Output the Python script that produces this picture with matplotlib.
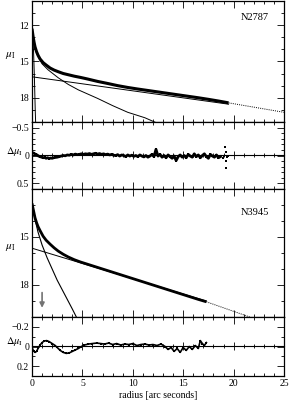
import matplotlib
matplotlib.use("Agg")
import matplotlib.pyplot as plt
from matplotlib.ticker import MultipleLocator, NullFormatter

plt.rcParams['font.family'] = ['Liberation Serif', 'DejaVu Serif']
plt.rcParams['mathtext.fontset'] = 'stix'
plt.rcParams['font.size'] = 7

# ---- N2787 profile (radius in arcsec, mu_I in mag/arcsec^2) ----
r1 = [0, 0.1, 0.2, 0.3, 0.45, 0.6, 0.8, 1.1, 1.4, 1.8, 2.2, 2.6, 3.1, 3.6, 4.2, 4.8,
      5.5, 6.5, 7.5, 8.5, 9.5, 10.5, 11.5, 12.5, 13.5, 14.5, 15.5, 16.5, 17.5, 18.5, 19.5]
mu1 = [12.3, 12.9, 13.4, 13.8, 14.2, 14.5, 14.8, 15.1, 15.3, 15.55, 15.72, 15.85, 16.0, 16.1,
       16.22, 16.32, 16.45, 16.65, 16.82, 17.0, 17.15, 17.28, 17.4, 17.52, 17.64, 17.76,
       17.88, 18.0, 18.13, 18.27, 18.42]
r1_ext = [19.5, 25]
mu1_ext = [18.42, 19.2]
r1_disk = [0, 19.5]
mu1_disk = [16.27, 18.53]
r1_bulge = [0, 0.15, 0.3, 0.6, 1.0, 1.6, 2.6, 3.6, 4.6, 6.5, 8.0, 9.5, 11.2, 12.3]
mu1_bulge = [12.4, 13.2, 13.8, 14.6, 15.2, 15.7, 16.35, 16.9, 17.35, 18.05, 18.65, 19.2, 19.65, 20.05]
r1_nuc = [0, 0.08, 0.16, 0.24, 0.32, 0.38]
mu1_nuc = [12.4, 12.9, 14.3, 16.4, 19.0, 20.5]

# N2787 residuals
r1_res = [0.05, 0.2, 0.35, 0.5, 0.65, 0.8, 0.95, 1.1, 1.25, 1.4, 1.55, 1.7, 1.85, 2.0, 2.15,
          2.3, 2.5, 2.7, 2.9, 3.1, 3.3, 3.5, 3.7, 3.9, 4.1, 4.3, 4.5, 4.7, 4.9, 5.1, 5.3,
          5.5, 5.7, 5.9, 6.1, 6.3, 6.5, 6.7, 6.9, 7.1, 7.3, 7.5, 7.7, 7.9, 8.1, 8.3, 8.5,
          8.7, 8.9, 9.1, 9.3, 9.5, 9.7, 9.9, 10.1, 10.3, 10.5, 10.7, 10.9, 11.1, 11.3, 11.5,
          11.7, 11.9, 12.1, 12.3, 12.5, 12.7, 12.9, 13.1, 13.3, 13.5, 13.7, 13.9, 14.1, 14.3,
          14.5, 14.7, 14.9, 15.1, 15.3, 15.5, 15.7, 15.9, 16.1, 16.3, 16.5, 16.7, 16.9, 17.1,
          17.3, 17.5, 17.7, 17.9, 18.1, 18.3, 18.5, 18.7, 18.9, 19.0, 19.1, 19.2, 19.2, 19.2,
          19.3, 19.4]
d1_res = [-0.05, -0.04, -0.02, -0.01, 0.01, 0.02, 0.03, 0.04, 0.035, 0.05, 0.04, 0.055, 0.045,
          0.05, 0.04, 0.035, 0.03, 0.02, 0.01, 0.0, 0.005, -0.01, -0.005, -0.02, -0.01,
          -0.025, -0.015, -0.02, -0.03, -0.02, -0.03, -0.025, -0.035, -0.02, -0.03, -0.04,
          -0.025, -0.035, -0.02, -0.03, -0.015, -0.025, -0.01, -0.02, -0.005, 0.0, -0.015,
          0.01, -0.01, 0.0, 0.02, -0.01, 0.01, -0.005, 0.015, 0.0, 0.02, -0.01, 0.01, 0.025,
          0.0, 0.03, 0.01, -0.02, 0.02, -0.11, 0.01, -0.02, 0.03, 0.0, 0.04, -0.01, 0.02,
          0.05, 0.01, 0.09, 0.02, -0.01, 0.03, 0.0, 0.04, -0.02, 0.01, 0.03, -0.03, 0.02,
          -0.01, 0.04, 0.0, -0.03, 0.02, 0.05, -0.02, 0.01, 0.03, -0.01, 0.04, 0.02,
          0.05, 0.0, -0.15, -0.07, 0.09, 0.22, 0.02, 0.0]

# ---- N3945 profile ----
r3 = [0, 0.1, 0.2, 0.3, 0.45, 0.6, 0.8, 1.1, 1.4, 1.8, 2.2, 2.6, 3.1, 3.6, 4.2, 4.8, 5.5,
      6.5, 7.5, 8.5, 9.5, 10.5, 11.5, 12.5, 13.5, 14.5, 15.5, 16.5, 17.3]
mu3 = [12.9, 13.2, 13.5, 13.8, 14.1, 14.35, 14.6, 14.95, 15.2, 15.45, 15.68, 15.88, 16.08,
       16.25, 16.42, 16.56, 16.7, 16.9, 17.1, 17.3, 17.5, 17.7, 17.9, 18.1, 18.3, 18.5,
       18.7, 18.9, 19.05]
r3_ext = [17.3, 21.6]
mu3_ext = [19.05, 20.0]
r3_disk = [0, 17.3]
mu3_disk = [15.7, 19.0]
r3_bulge = [0, 0.3, 0.6, 1.0, 1.5, 2.0, 2.5, 3.0, 3.5, 4.0, 4.4]
mu3_bulge = [12.95, 13.9, 14.7, 15.5, 16.3, 17.0, 17.7, 18.3, 18.9, 19.5, 20.0]
arrow_r = 1.0
arrow_mu = [18.3, 19.6]

# N3945 residuals
r3_res = [0.0, 0.15, 0.3, 0.45, 0.6, 0.8, 1.0, 1.2, 1.45, 1.7, 2.0, 2.3, 2.5, 2.8, 3.1, 3.4,
          3.7, 4.0, 4.3, 4.6, 4.9, 5.2, 5.6, 6.0, 6.4, 6.8, 7.2, 7.6, 8.0, 8.4, 8.8, 9.2,
          9.6, 10.0, 10.4, 10.8, 11.2, 11.6, 12.0, 12.4, 12.8, 13.2, 13.5, 13.8, 14.1, 14.4,
          14.7, 15.0, 15.3, 15.6, 15.9, 16.2, 16.5, 16.7, 16.9, 17.1, 17.3]
d3_res = [0.01, 0.045, 0.06, 0.05, 0.02, -0.015, -0.04, -0.055, -0.06, -0.05, -0.03, -0.01,
          0.01, 0.04, 0.06, 0.07, 0.065, 0.05, 0.035, 0.02, 0.0, -0.015, -0.025, -0.03,
          -0.035, -0.03, -0.025, -0.035, -0.02, -0.03, -0.015, -0.025, -0.02, -0.03, -0.01,
          -0.02, -0.025, -0.015, -0.02, -0.01, -0.025, 0.0, 0.03, 0.01, 0.05, 0.02, 0.06,
          0.01, 0.04, 0.0, 0.03, -0.01, 0.02, -0.06, -0.03, -0.01, -0.04]

fig = plt.figure(figsize=(2.89, 4.0), dpi=100)
left, width = 32 / 289, 252 / 289
ax1 = fig.add_axes([left, 0.695, width, 0.303])
ax2 = fig.add_axes([left, 0.5275, width, 0.1675])
ax3 = fig.add_axes([left, 0.2075, width, 0.32])
ax4 = fig.add_axes([left, 0.06, width, 0.1475])

# profiles
ax1.plot(r1, mu1, color="black", lw=2.2, solid_capstyle="butt")
ax1.plot(r1_ext, mu1_ext, color="black", lw=0.7, linestyle=(0, (1, 1.2)))
ax1.plot(r1_disk, mu1_disk, color="black", lw=0.7)
ax1.plot(r1_bulge, mu1_bulge, color="black", lw=0.7)
ax1.plot(r1_nuc, mu1_nuc, color="black", lw=0.7)
ax1.text(0.94, 0.84, "N2787", transform=ax1.transAxes, ha="right", fontsize=7.5)

ax2.plot(r1_res, d1_res, "s", color="black", ms=1.8, mew=0)
ax2.plot(r1_res[:-8], d1_res[:-8], color="black", lw=2.0)

ax3.plot(r3, mu3, color="black", lw=2.0, solid_capstyle="butt")
ax3.plot(r3_ext, mu3_ext, color="black", lw=0.7, linestyle=(0, (1, 1.2)))
ax3.plot(r3_disk, mu3_disk, color="black", lw=0.7)
ax3.plot(r3_bulge, mu3_bulge, color="black", lw=0.8)
ax3.annotate("", xy=(arrow_r, arrow_mu[1]), xytext=(arrow_r, arrow_mu[0]),
             arrowprops=dict(arrowstyle="-|>", color="0.45", lw=1.2, mutation_scale=7))
ax3.text(0.94, 0.8, "N3945", transform=ax3.transAxes, ha="right", fontsize=7.5)

ax4.plot(r3_res, d3_res, color="black", lw=1.2, marker="s", ms=1.5, mew=0)

# limits and ticks
ax1.set_ylim(20, 10)
ax2.set_ylim(0.6, -0.6)
ax3.set_ylim(20, 12)
ax4.set_ylim(0.3, -0.3)

ax1.set_yticks([12, 15, 18])
ax1.yaxis.set_minor_locator(MultipleLocator(1))
ax3.set_yticks([15, 18])
ax3.yaxis.set_minor_locator(MultipleLocator(1))
ax2.set_yticks([-0.5, 0, 0.5])
ax2.set_yticklabels(["\u22120.5", "0", "0.5"])
ax2.yaxis.set_minor_locator(MultipleLocator(0.1))
ax4.set_yticks([-0.2, 0, 0.2])
ax4.set_yticklabels(["\u22120.2", "0", "0.2"])
ax4.yaxis.set_minor_locator(MultipleLocator(0.1))

for ax in (ax1, ax2, ax3, ax4):
    ax.set_xlim(0, 25)
    ax.xaxis.set_major_locator(MultipleLocator(5))
    ax.xaxis.set_minor_locator(MultipleLocator(1))
    ax.tick_params(which="both", direction="in", top=True, right=True, width=0.6, pad=2)
    ax.tick_params(which="major", length=5)
    ax.tick_params(which="minor", length=2.5)
    for s in ax.spines.values():
        s.set_linewidth(0.9)
    if ax is not ax4:
        ax.tick_params(labelbottom=False)

# zero line of the residual panels carries its own ticks
for ax in (ax2, ax4):
    mid = ax.secondary_xaxis(0.5)
    mid.xaxis.set_major_locator(MultipleLocator(5))
    mid.xaxis.set_minor_locator(MultipleLocator(1))
    mid.xaxis.set_major_formatter(NullFormatter())
    mid.tick_params(which="both", direction="inout", width=0.6)
    mid.tick_params(which="major", length=6)
    mid.tick_params(which="minor", length=3)
    mid.spines["bottom"].set_linewidth(0.7)

ax1.set_ylabel(r"$\mu_{\rm I}$", rotation=0, fontsize=8)
ax3.set_ylabel(r"$\mu_{\rm I}$", rotation=0, fontsize=8)
ax2.set_ylabel(r"$\Delta\mu_{\rm I}$", rotation=0, fontsize=7.5)
ax4.set_ylabel(r"$\Delta\mu_{\rm I}$", rotation=0, fontsize=7.5)
ax1.yaxis.set_label_coords(-0.085, 0.5)
ax3.yaxis.set_label_coords(-0.085, 0.5)
ax2.yaxis.set_label_coords(-0.07, 0.47)
ax4.yaxis.set_label_coords(-0.07, 0.47)

ax4.set_xlabel("radius [arc seconds]", fontsize=7, labelpad=2)

plt.savefig("out.png", dpi=100)
